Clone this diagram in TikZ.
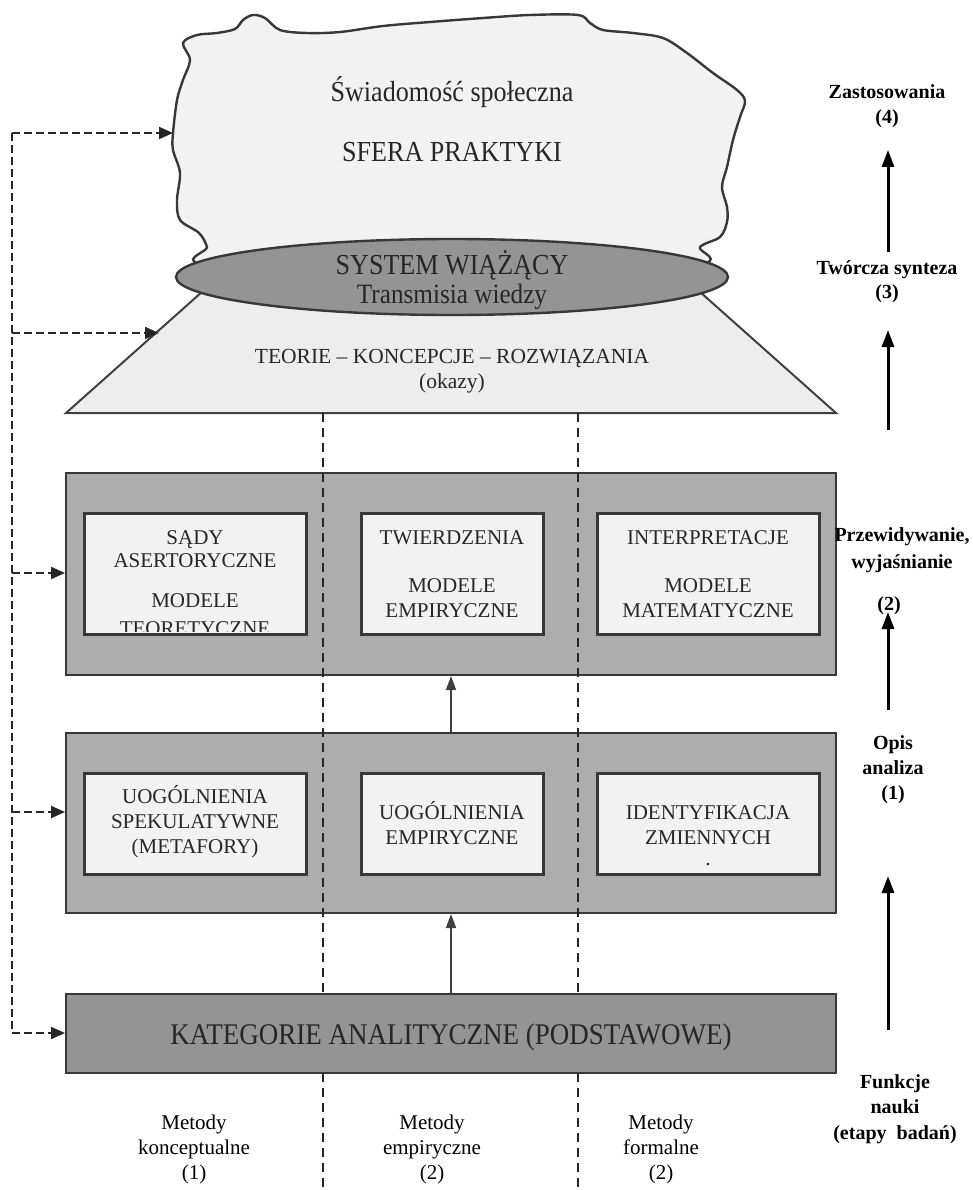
\documentclass[tikz,border=0pt]{standalone}
\usepackage{fontspec}
\setmainfont{Liberation Serif}
\newfontfamily\condfont[FakeStretch=0.9]{Liberation Serif}
\usetikzlibrary{shapes.geometric,arrows.meta}
\definecolor{cloudfill}{gray}{0.95}
\definecolor{trapfill}{gray}{0.93}
\definecolor{boxgray}{gray}{0.68}
\definecolor{darkgray}{gray}{0.58}
\definecolor{innerfill}{gray}{0.95}
\definecolor{edge}{gray}{0.22}
\begin{document}
\begin{tikzpicture}[x=1pt,y=-1pt,
  bigtxt/.style={font=\condfont\fontsize{29}{33}\selectfont, inner sep=0pt, text height=19pt, text depth=0pt, text=black!85},
  midtxt/.style={font=\condfont\fontsize{28}{32}\selectfont, inner sep=0pt, text height=18pt, text depth=0pt, text=black!85},
  boxtxt/.style={font=\fontsize{21}{24}\selectfont, inner sep=0pt, text height=14pt, text depth=0pt, text=black!85},
  teotxt/.style={font=\fontsize{21.5}{24}\selectfont, inner sep=0pt, text height=14pt, text depth=0pt, text=black!85},
  labtxt/.style={font=\fontsize{20}{24}\selectfont\bfseries, inner sep=0pt, text height=13.5pt, text depth=0pt},
  bottxt/.style={font=\fontsize{21}{24}\selectfont, inner sep=0pt, text height=14pt, text depth=0pt},
  graybox/.style={draw=edge, line width=2pt, fill=boxgray, inner sep=0pt},
  innerbox/.style={draw=edge, line width=3pt, fill=innerfill, inner sep=0pt},
  feedline/.style={draw=black!85, line width=2pt, dash pattern=on 8pt off 4pt},
  feedarrow/.style={feedline, -{Triangle[length=14pt,width=12pt]}},
  uparrow/.style={draw=black!75, line width=1.6pt, -{Triangle[length=14pt,width=10pt]}},
  funcarrow/.style={draw=black, line width=3pt, -{Triangle[length=17pt,width=12pt]}},
  colline/.style={draw=black!85, line width=1.6pt, dash pattern=on 9pt off 6pt}
]
\useasboundingbox (0,0) rectangle (972,1190);

% cloud: sfera praktyki
\filldraw[fill=cloudfill, draw=edge, line width=2.4pt]
  plot[smooth cycle, tension=0.55] coordinates {
   (183,43) (197,35) (217,33) (235,29) (243,20) (253,15) (265,18) (280,30)
   (307,33) (340,32) (383,26) (430,22) (483,18) (530,15) (578,15) (590,23)
   (603,30) (633,33) (663,38) (687,53) (713,73) (737,90) (745,101) (740,117)
   (733,140) (727,167) (722,187) (727,207) (727,222) (720,237) (700,247) (693,266)
   (452,280) (210,266) (207,247) (199,233) (180,220) (177,200) (180,173)
   (173,150) (173,133) (177,100) (183,80) (190,60)};
\node[bigtxt] (swiad) at (452,92) {Świadomość społeczna};
\node[bigtxt] (sfera) at (452,152) {SFERA PRAKTYKI};

% trapezium: teorie
\filldraw[fill=trapfill, draw=black!75, line width=2pt]
  (66,413) -- (221,275) -- (681,275) -- (836,413) -- cycle;
\coordinate (trapL) at (159,333);
\coordinate (cloudL) at (173,133);
\node[teotxt] (teorie) at (452,356) {TEORIE – KONCEPCJE – ROZWIĄZANIA};
\node[teotxt] (okazy) at (452,381) {(okazy)};

% ellipse: system wiazacy
\node[ellipse, draw=edge, line width=2.4pt, fill=darkgray, minimum width=552pt, minimum height=76pt, inner sep=0pt] (sys) at (452,277) {};
\node[bigtxt] (systxt) at (452,265) {SYSTEM WIĄŻĄCY};
\node[midtxt] (trans) at (452,294) {Transmisia wiedzy};

% upper gray level
\node[graybox, minimum width=770pt, minimum height=202pt] (upper) at (451,574) {};
\node[innerbox, minimum width=222pt, minimum height=121pt] (b1) at (195,573.5) {};
\node[innerbox, minimum width=182pt, minimum height=121pt] (b2) at (452,573.5) {};
\node[innerbox, minimum width=222pt, minimum height=121pt] (b3) at (708,573.5) {};
\node[boxtxt] (t11) at (195,537) {SĄDY};
\node[boxtxt] (t12) at (195,560) {ASERTORYCZNE};
\node[boxtxt] (t13) at (195,600) {MODELE};
\begin{scope}
  \clip (86,515) rectangle (304,631);
  \node[boxtxt] (t14) at (195,628) {TEORETYCZNE};
\end{scope}
\node[boxtxt] (t21) at (452,537) {TWIERDZENIA};
\node[boxtxt] (t22) at (452,585) {MODELE};
\node[boxtxt] (t23) at (452,610) {EMPIRYCZNE};
\node[boxtxt] (t31) at (708,537) {INTERPRETACJE};
\node[boxtxt] (t32) at (708,585) {MODELE};
\node[boxtxt] (t33) at (708,610) {MATEMATYCZNE};

% lower gray level
\node[graybox, minimum width=770pt, minimum height=180pt] (lower) at (451,823) {};
\node[innerbox, minimum width=222pt, minimum height=101pt] (b4) at (195,823.5) {};
\node[innerbox, minimum width=182pt, minimum height=101pt] (b5) at (452,823.5) {};
\node[innerbox, minimum width=222pt, minimum height=101pt] (b6) at (708,823.5) {};
\node[boxtxt] (t41) at (195,796) {UOGÓLNIENIA};
\node[boxtxt] (t42) at (195,821) {SPEKULATYWNE};
\node[boxtxt] (t43) at (195,846) {(METAFORY)};
\node[boxtxt] (t51) at (452,812) {UOGÓLNIENIA};
\node[boxtxt] (t52) at (452,837) {EMPIRYCZNE};
\node[boxtxt] (t61) at (708,812) {IDENTYFIKACJA};
\node[boxtxt] (t62) at (708,837) {ZMIENNYCH};
\node[boxtxt] (t63) at (708,858) {.};

% method column separators (behind the base box)
\coordinate (c1top) at (323,413);
\coordinate (c1bot) at (323,1190);
\coordinate (c2top) at (578,413);
\coordinate (c2bot) at (578,1190);
\draw[colline] (c1top) -- (c1bot);
\draw[colline] (c2top) -- (c2bot);

% base level
\node[graybox, fill=darkgray, minimum width=770pt, minimum height=79pt] (base) at (451,1033.5) {};
\node[bigtxt, font=\condfont\fontsize{30}{34}\selectfont] (kat) at (451,1035) {KATEGORIE ANALITYCZNE (PODSTAWOWE)};

% arrows between levels
\draw[uparrow] (base.north) -- (lower.south);
\draw[uparrow] (lower.north) -- (upper.south);

% feedback dashed line
\coordinate (fTop) at (12,133);
\coordinate (fTrap) at (12,333);
\coordinate (fUp) at (12,573);
\coordinate (fLow) at (12,812);
\coordinate (fBase) at (12,1033);
\draw[feedline] (fTop) -- (fBase);
\draw[feedarrow] (fTop) -- (cloudL);
\draw[feedarrow] (fTrap) -- (trapL);
\draw[feedarrow] (fUp) -- (upper.west |- fUp);
\draw[feedarrow] (fLow) -- (lower.west |- fLow);
\draw[feedarrow] (fBase) -- (base.west |- fBase);

% functions of science (right)
\node[labtxt] (zast) at (887,92) {Zastosowania};
\node[labtxt] (zast4) at (887,117) {(4)};
\node[labtxt] (tworcza) at (887,268) {Twórcza synteza};
\node[labtxt] (tworcza3) at (887,292) {(3)};
\node[labtxt] (przew) at (902,535) {Przewidywanie,};
\node[labtxt] (wyjas) at (902,562) {wyjaśnianie};
\node[labtxt] (przew2) at (889,604) {(2)};
\node[labtxt] (opis) at (893,743) {Opis};
\node[labtxt] (anal) at (893,768) {analiza};
\node[labtxt] (opis1) at (893,793) {(1)};
\node[labtxt] (funk) at (895,1082) {Funkcje};
\node[labtxt] (nauki) at (895,1107) {nauki};
\node[labtxt] (etapy) at (895,1133) {(etapy\ \ badań)};

\coordinate (a1s) at (888,1030);
\coordinate (a1e) at (888,876);
\coordinate (a2s) at (888,710);
\coordinate (a2e) at (888,612);
\coordinate (a3s) at (888,430);
\coordinate (a3e) at (888,330);
\coordinate (a4s) at (888,252);
\coordinate (a4e) at (888,150);
\draw[funcarrow] (a1s) -- (a1e);
\draw[funcarrow] (a2s) -- (a2e);
\draw[funcarrow] (a3s) -- (a3e);
\draw[funcarrow] (a4s) -- (a4e);

% methods (bottom)
\node[bottxt] (m1a) at (194,1122) {Metody};
\node[bottxt] (m1b) at (194,1147) {konceptualne};
\node[bottxt] (m1c) at (194,1172) {(1)};
\node[bottxt] (m2a) at (432,1122) {Metody};
\node[bottxt] (m2b) at (432,1147) {empiryczne};
\node[bottxt] (m2c) at (432,1172) {(2)};
\node[bottxt] (m3a) at (661,1122) {Metody};
\node[bottxt] (m3b) at (661,1147) {formalne};
\node[bottxt] (m3c) at (661,1172) {(2)};
\end{tikzpicture}
\end{document}
